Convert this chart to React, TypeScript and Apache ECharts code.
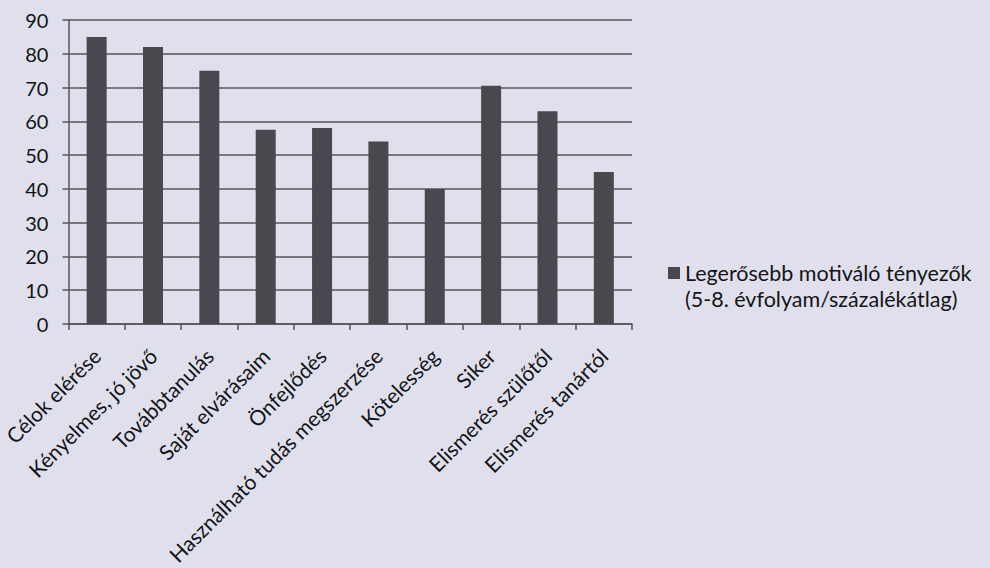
import React, { useEffect, useRef } from "react";
import * as echarts from "echarts";

const categories = [
  "Célok elérése",
  "Kényelmes, jó jövő",
  "Továbbtanulás",
  "Saját elvárásaim",
  "Önfejlődés",
  "Használható tudás megszerzése",
  "Kötelesség",
  "Siker",
  "Elismerés szülőtől",
  "Elismerés tanártól",
];
const values = [85, 82, 75, 57.5, 58, 54, 40, 70.5, 63, 45];
const seriesName = "Legerősebb motiváló tényezők";
const seriesSub = "(5-8. évfolyam/százalékátlag)";
const yTicks = { min: 0, max: 90, interval: 10 };

export default function App() {
  const ref = useRef<HTMLDivElement>(null);
  useEffect(() => {
    document.body.style.margin = "0";
    const chart = echarts.init(ref.current!, null, { renderer: "svg" });
    const font = "Lato, 'Open Sans', sans-serif";
    chart.setOption({
      animation: false,
      backgroundColor: "#dfe0eb",
      textStyle: { fontFamily: font },
      grid: { left: 65, right: 358, top: 20, bottom: 244, containLabel: false },
      legend: {
        left: 663,
        top: 255,
        data: [seriesName],
        icon: "path://M0,0L12,0L12,12L0,12Z M0,38L0.05,38L0.05,38.05Z",
        itemWidth: 12,
        itemHeight: 38,
        itemGap: 6,
        formatter: (n: string) => n + "\n" + seriesSub,
        textStyle: { fontFamily: font, fontSize: 21.5, color: "#141418", lineHeight: 26 },
      },
      xAxis: {
        type: "category",
        data: categories,
        boundaryGap: true,
        axisLine: { show: true, lineStyle: { color: "#55565c", width: 1.5 } },
        axisTick: { show: true, alignWithLabel: false, length: 6, lineStyle: { color: "#55565c", width: 1.5 } },
        axisLabel: {
          rotate: 45,
          interval: 0,
          margin: 28,
          fontSize: 21,
          color: "#141418",
          fontFamily: font,
        },
      },
      yAxis: {
        type: "value",
        min: yTicks.min,
        max: yTicks.max,
        interval: yTicks.interval,
        axisLine: { show: true, lineStyle: { color: "#55565c", width: 1.5 } },
        axisTick: { show: true, length: 6, lineStyle: { color: "#55565c", width: 1.5 } },
        axisLabel: { fontSize: 20, color: "#141418", margin: 20, fontFamily: font },
        splitLine: { show: true, lineStyle: { color: "#55565c", width: 1.5 } },
      },
      series: [
        {
          name: seriesName,
          type: "bar",
          data: values,
          barWidth: 20,
          itemStyle: { color: "#48484e" },
        },
      ],
    });
    return () => chart.dispose();
  }, []);
  return (
    <div
      ref={ref}
      style={{ position: "fixed", left: 0, top: 0, width: 990, height: 568 }}
    />
  );
}
